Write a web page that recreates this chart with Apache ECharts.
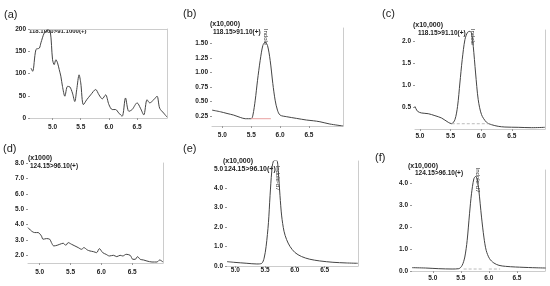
<!DOCTYPE html>
<html>
<head>
<meta charset="utf-8">
<script src="https://cdn.jsdelivr.net/npm/echarts@6/dist/echarts.min.js"></script>
<style>
html, body { margin: 0; background: #fff; }
#chart { width: 550px; height: 286px; }
</style>
</head>
<body>
<div id="chart"></div>
<script>
// retention time (min) / intensity
const timeA = [4.618, 4.647, 4.706, 4.765, 4.794, 4.853, 4.912, 4.959, 5.0, 5.029, 5.059, 5.088, 5.118, 5.147, 5.176, 5.218, 5.265, 5.306, 5.353, 5.394, 5.429, 5.471, 5.5, 5.547, 5.606, 5.676, 5.765, 5.824, 5.882, 5.941, 6.0, 6.059, 6.118, 6.176, 6.235, 6.294, 6.353, 6.412, 6.5, 6.559, 6.618, 6.676, 6.724, 6.794, 6.853, 6.9, 6.971, 7.03]
const intA = [112, 105, 154, 157, 169, 191, 198, 195, 131, 120, 131, 124, 109, 94, 71, 49, 71, 70, 56, 37, 64, 97, 79, 30, 41, 52, 64, 52, 43, 52, 30, 19, 19, 11, 4, 45, 15, 19, 34, 22, 7, 41, 34, 41, 49, 22, 11, 2]

const timeB = [4.822, 4.966, 5.08, 5.195, 5.31, 5.397, 5.5, 5.529, 5.569, 5.609, 5.655, 5.701, 5.741, 5.782, 5.828, 5.874, 5.914, 5.954, 6.0, 6.115, 6.287, 6.46, 6.575, 6.69, 6.862, 7.092]
const intB = [0.352, 0.324, 0.295, 0.267, 0.227, 0.205, 0.205, 0.267, 0.523, 0.864, 1.205, 1.46, 1.517, 1.46, 1.205, 0.807, 0.523, 0.352, 0.267, 0.239, 0.21, 0.182, 0.17, 0.153, 0.114, 0.08]

const timeC = [4.918, 4.962, 5.027, 5.136, 5.245, 5.353, 5.462, 5.516, 5.571, 5.614, 5.652, 5.69, 5.734, 5.777, 5.815, 5.842, 5.87, 5.908, 5.951, 6.005, 6.087, 6.168, 6.277, 6.386, 6.603, 6.821, 7.038]
const intC = [0.515, 0.402, 0.364, 0.348, 0.303, 0.25, 0.152, 0.121, 0.212, 0.515, 1.045, 1.576, 2.03, 2.197, 2.22, 2.18, 1.879, 1.273, 0.667, 0.326, 0.152, 0.098, 0.061, 0.045, 0.038, 0.03, 0.038]

const timeD = [4.81, 4.864, 4.918, 4.973, 5.027, 5.054, 5.109, 5.163, 5.19, 5.228, 5.283, 5.326, 5.38, 5.424, 5.462, 5.516, 5.571, 5.625, 5.679, 5.717, 5.772, 5.815, 5.87, 5.924, 5.967, 6.022, 6.076, 6.13, 6.196, 6.25, 6.304, 6.348, 6.402, 6.467, 6.511, 6.549, 6.587, 6.63, 6.685, 6.739, 6.821, 6.902, 6.946, 7.0]
const intD = [3.8, 3.587, 3.478, 3.478, 3.261, 3.043, 3.087, 3.043, 2.826, 2.609, 2.652, 2.717, 2.783, 2.652, 2.826, 2.717, 2.609, 2.5, 2.391, 2.5, 2.348, 2.283, 2.239, 2.174, 2.435, 2.174, 2.065, 1.957, 2.0, 1.913, 2.0, 1.957, 2.065, 2.0, 1.739, 1.739, 1.913, 1.739, 1.696, 1.63, 1.565, 1.565, 1.696, 1.565]

const timeE = [4.861, 4.972, 5.194, 5.361, 5.444, 5.483, 5.517, 5.556, 5.583, 5.611, 5.639, 5.694, 5.722, 5.75, 5.778, 5.817, 5.861, 5.917, 6.0, 6.111, 6.25, 6.417, 6.639, 6.861, 7.056]
const intE = [0.226, 0.191, 0.139, 0.104, 0.139, 0.4, 1.009, 2.226, 3.617, 4.835, 5.39, 5.44, 4.835, 3.617, 2.574, 1.791, 1.357, 1.009, 0.696, 0.487, 0.348, 0.261, 0.191, 0.157, 0.139]

const timeF = [4.631, 4.869, 5.107, 5.345, 5.464, 5.524, 5.571, 5.613, 5.655, 5.69, 5.732, 5.762, 5.792, 5.821, 5.869, 5.911, 5.952, 6.012, 6.089, 6.179, 6.298, 6.476, 6.774, 7.012]
const intF = [0.152, 0.136, 0.106, 0.091, 0.106, 0.258, 0.636, 1.394, 2.606, 3.515, 4.197, 4.303, 4.197, 3.667, 2.455, 1.545, 0.939, 0.561, 0.364, 0.258, 0.212, 0.182, 0.152, 0.136]

// integration baselines
const baseB = [[5.49, 0.205], [5.84, 0.205]]
const baseC = [[5.52, 0.12], [6.17, 0.12]]
const baseF = [[5.55, 0.09], [5.88, 0.09], null, [6.0, 0.09], [6.2, 0.09]]

const xTicks = [5.0, 5.5, 6.0, 6.5]
const yTicksA = [0, 50, 100, 150, 200]
const yTicksB = [0.25, 0.5, 0.75, 1.0, 1.25, 1.5]
const yTicksC = [0.5, 1.0, 1.5, 2.0]
const yTicksD = [2, 3, 4, 5, 6, 7, 8]
const yTicksE = [0, 1, 2, 3, 4, 5]
const yTicksF = [0, 1, 2, 3, 4]

const zip = (xs, ys) => xs.map((x, i) => [x, ys[i]])

const panels = [
  { grid: { left: 30, top: 29, width: 137, height: 89 }, x: [4.6, 7.03], y: [0, 200], data: zip(timeA, intA), yt: yTicksA, dec: 0, xm: 6 },
  { grid: { left: 212, top: 28, width: 131, height: 98 }, x: [4.82, 7.09], y: [0.08, 1.76], data: zip(timeB, intB), yt: yTicksB, dec: 2, xm: 6 },
  { grid: { left: 415, top: 30, width: 130, height: 99 }, x: [4.92, 7.04], y: [0, 2.25], data: zip(timeC, intC), yt: yTicksC, dec: 1, xm: 4 },
  { grid: { left: 28, top: 163, width: 135, height: 100 }, x: [4.81, 7.0], y: [1.5, 8.0], data: zip(timeD, intD), yt: yTicksD, dec: 1, xm: 6 },
  { grid: { left: 227, top: 161, width: 131, height: 105 }, x: [4.86, 7.06], y: [0, 5.4], data: zip(timeE, intE), yt: yTicksE, dec: 1, xm: 1 },
  { grid: { left: 412, top: 170, width: 133, height: 101 }, x: [4.63, 7.0], y: [0, 4.6], data: zip(timeF, intF), yt: yTicksF, dec: 1, xm: 4 }
]

const FONT = 'Arial, "Liberation Sans", sans-serif'
const labelStyle = { fontSize: 6.5, fontWeight: 'bold', color: '#222', fontFamily: FONT }

const grids = panels.map(p => p.grid)
const xAxes = panels.map((p, i) => ({
  type: 'value', gridIndex: i, min: p.x[0], max: p.x[1],
  axisLine: { show: true, onZero: false, lineStyle: { color: '#ccc', width: 1 } },
  axisTick: { show: true, customValues: xTicks, length: 2, lineStyle: { color: '#999' } },
  axisLabel: { ...labelStyle, customValues: xTicks, margin: p.xm, formatter: v => v.toFixed(1) },
  splitLine: { show: false }
}))
const yAxes = panels.map((p, i) => ({
  type: 'value', gridIndex: i, min: p.y[0], max: p.y[1],
  axisLine: { show: false },
  axisTick: { show: true, customValues: p.yt, length: 2, lineStyle: { color: '#999' } },
  axisLabel: { ...labelStyle, customValues: p.yt, margin: 4, formatter: v => v.toFixed(p.dec) },
  splitLine: { show: false }
}))
// right-hand frame line of each panel
panels.forEach((p, i) => {
  yAxes.push({
    type: 'value', gridIndex: i, position: 'right', min: p.y[0], max: p.y[1],
    axisLine: { show: true, lineStyle: { color: '#ccc', width: 1 } },
    axisTick: { show: false }, axisLabel: { show: false }, splitLine: { show: false }
  })
})
// top frame only on (a)
xAxes.push({
  type: 'value', gridIndex: 0, position: 'top', min: 4.6, max: 7.03,
  axisLine: { show: true, onZero: false, lineStyle: { color: '#ccc', width: 1 } },
  axisTick: { show: false }, axisLabel: { show: false }, splitLine: { show: false }
})

const series = panels.map((p, i) => ({
  type: 'line', xAxisIndex: i, yAxisIndex: i, data: p.data,
  showSymbol: false, smooth: 0.3, clip: true,
  lineStyle: { color: '#444', width: 1 }
}))
series.push(
  { type: 'line', xAxisIndex: 1, yAxisIndex: 1, data: baseB, showSymbol: false, lineStyle: { color: '#e9a0a0', width: 1 } },
  { type: 'line', xAxisIndex: 2, yAxisIndex: 2, data: baseC, showSymbol: false, lineStyle: { color: '#aaa', width: 0.8, type: [3, 2] } },
  { type: 'line', xAxisIndex: 5, yAxisIndex: 5, data: baseF, showSymbol: false, connectNulls: false, lineStyle: { color: '#aaa', width: 0.8, type: [3, 2] } }
)

const txt = (x, y, text, font, extra) => ({
  type: 'text', x, y, silent: true,
  style: { text, font, fill: '#222', verticalAlign: 'middle', ...(extra || {}) }
})
const vtxt = (x, y, text) => ({
  type: 'text', x, y, rotation: -Math.PI / 2, silent: true,
  style: { text, font: '6px ' + FONT, fill: '#333', align: 'center', verticalAlign: 'middle' }
})
const big = '11px ' + FONT
const hdr = 'bold 7px ' + FONT
const sub = 'bold 6.5px ' + FONT

const graphic = [
  txt(4, 15, '(a)', big), txt(183, 14, '(b)', big), txt(382, 14, '(c)', big),
  txt(3, 149, '(d)', big), txt(183, 149, '(e)', big), txt(375, 158, '(f)', big),
  txt(29, 31, '118.1000>91.1000(+)', 'bold 6px ' + FONT),
  txt(210, 24, '(x10,000)', hdr), txt(213, 32.5, '118.15>91.10(+)', sub), vtxt(266, 37, 'Indole'),
  txt(413, 25, '(x10,000)', hdr), txt(418, 33, '118.15>91.10(+)', sub), vtxt(473, 37, 'Indole'),
  txt(28, 158, '(x1000)', hdr), txt(30, 166, '124.15>96.10(+)', sub),
  txt(223, 161, '(x10,000)', hdr), txt(224, 169, '124.15>96.10(+)', 'bold 7px ' + FONT), vtxt(278, 178, 'Indole-d7'),
  txt(408, 166, '(x10,000)', hdr), txt(415, 173, '124.15>96.10(+)', sub), vtxt(478, 180, 'Indole-d7')
]

const chart = echarts.init(document.getElementById('chart'))
chart.setOption({
  animation: false,
  backgroundColor: '#fff',
  grid: grids,
  xAxis: xAxes,
  yAxis: yAxes,
  series: series,
  graphic: graphic
})
</script>
</body>
</html>
